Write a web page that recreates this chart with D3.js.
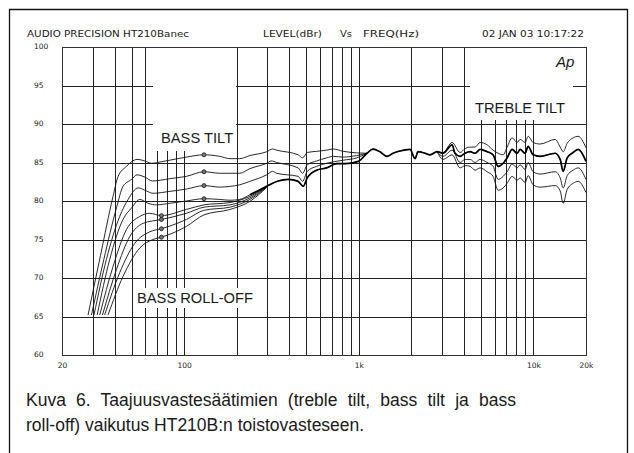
<!DOCTYPE html>
<html>
<head>
<meta charset="utf-8">
<script src="https://cdn.jsdelivr.net/npm/d3@7"></script>
<style>
  body { margin: 0; background: #fff; }
  svg { display: block; }
  text { fill: #1a1a1a; }
</style>
</head>
<body>
<div class="chart"></div>
<script>
//----------------------------------------------------------------------------------------------------------------------
// HT210B frequency response (Audio Precision plot)
//----------------------------------------------------------------------------------------------------------------------

var width = 634,
    height = 453;

// frequency ticks (grid) and labelled ones
var freqTicks = [20, 30, 40, 50, 60, 70, 80, 90, 100, 200, 300, 400, 500, 600, 700, 800, 900,
                 1000, 2000, 3000, 4000, 5000, 6000, 7000, 8000, 9000, 10000, 20000];
var freqLabels = {20: "20", 100: "100", 1000: "1k", 10000: "10k", 20000: "20k"};
var levelTicks = [60, 65, 70, 75, 80, 85, 90, 95, 100];

// curves as [Hz, dBr]; neutral setting over the whole band
var neutral = [[31.8,65.2],[37.5,72.4],[44.7,77.6],[50,79.1],[55.8,80.2],[62.2,79.7],[69.5,79.5],[82.8,79.7],
  [103,80.0],[130,80.3],[160,80.2],[183,80.1],[208,80.2],[238,80.8],[297,81.9],[317,82.25],[346,82.6],
  [395,82.8],[450,82.55],[481,81.9],[507,83.0],[574,84.0],[655,84.3],[748,84.85],[834,84.85],[995,85.15],
  [1115,86.2],[1207,86.75],[1323,86.4],[1451,85.8],[1571,86.2],[1723,86.5],[1966,86.7],[2100,85.5],
  [2184,86.4],[2396,86.2],[2560,86.0],[2808,86.4],[3040,86.2],[3422,87.3],[3560,86.2],[3804,85.8],
  [4062,86.2],[4340,86.4],[4634,86.2],[4952,86.7],[5432,86.4],[5878,86.0],[6280,84.5],[6708,84.9],
  [7070,85.6],[7554,86.7],[8068,86.2],[8394,86.7],[8966,86.2],[9328,87.1],[9964,86.0],[10930,85.8],
  [13320,86.2],[14230,85.4],[14800,83.85],[15610,85.6],[16890,86.3],[18040,86.7],[20000,85.15]];

// bass tilt settings (merge into neutral around 1.1k)
var bassTilt3 = [[28.2,65.2],[33.2,72.9],[39.2,80.6],[41.9,83.2],[46.8,84.5],[50,85.1],[53.8,85.4],[59.6,85.2],
  [65,84.9],[74.2,85.1],[82.8,85.3],[103,85.7],[130,86.0],[160,85.8],[183,85.5],[208,85.5],[238,85.9],
  [297,86.4],[321,86.75],[339,86.6],[450,86.0],[477,85.6],[507,86.3],[574,86.45],[655,86.6],[715,86.75],
  [815,86.45],[973,86.25],[1115,86.2]];
var bassTilt2 = [[29.5,65.2],[34.7,72.4],[41.0,79.1],[44.7,81.9],[50,82.8],[53.8,83.4],[59.6,83.1],[65.9,82.6],
  [82.8,82.9],[103,83.2],[130,83.8],[160,83.6],[183,83.6],[208,83.6],[238,84.2],[297,84.9],[316,85.2],
  [339,85.0],[450,84.3],[477,83.6],[507,84.7],[574,85.2],[655,85.6],[715,85.8],[815,85.7],[973,85.9],
  [1115,86.2]];
var bassTilt1 = [[30.5,65.2],[35.9,72.4],[42.8,78.0],[47.8,80.2],[54.6,81.7],[60.9,81.3],[66.3,81.0],[82.8,81.25],
  [103,81.55],[130,82.0],[160,81.8],[183,81.9],[208,82.1],[238,82.55],[297,83.4],[321,83.85],[339,83.6],
  [450,83.2],[477,82.55],[507,83.85],[574,84.5],[655,84.9],[815,85.3],[973,85.6],[1115,86.2]];

// bass roll-off settings (merge into neutral around 300 Hz)
var rollOff1 = [[32.9,65.2],[39.2,71.5],[46.8,76.3],[55.8,78.0],[63.6,78.4],[74.2,78.1],[103,78.9],[130,79.5],
  [183,79.8],[238,80.6],[297,81.9]];
var rollOff2 = [[34.1,65.2],[41.0,71.1],[48.9,75.4],[58.3,77.1],[74.2,77.6],[103,78.4],[130,79.2],[183,79.5],
  [238,80.4],[297,81.85]];
var rollOff3 = [[35.1,65.2],[42.8,70.7],[52.2,74.5],[63.6,76.0],[74.2,76.4],[103,77.6],[130,78.8],[183,79.2],
  [238,80.2],[297,81.8]];
var rollOff4 = [[36.7,65.2],[44.7,70.2],[55.8,73.9],[66.3,75.0],[74.2,75.3],[103,76.7],[130,78.2],[183,78.9],
  [238,79.95],[297,81.75]];

// treble tilt settings (leave neutral around 3k)
var trebleUp = [[2808,86.4],[3040,86.3],[3422,87.6],[3804,86.3],[4062,86.8],[4340,87.0],[4634,87.0],[4952,87.6],
  [5432,87.3],[5878,86.6],[6280,86.2],[6708,86.0],[7070,87.0],[7554,88.2],[8068,87.6],[8394,88.0],
  [8966,87.6],[9328,88.4],[9964,87.6],[10930,87.4],[13320,88.0],[14230,87.0],[14800,86.4],[15610,87.5],
  [16890,88.2],[18040,88.4],[20000,86.9]];
var trebleDown1 = [[2808,86.4],[3040,85.8],[3422,86.6],[3804,85.0],[4062,85.4],[4340,85.4],[4634,85.0],[4952,85.4],
  [5432,85.0],[5878,84.5],[6280,82.8],[6708,83.2],[7070,83.8],[7554,84.8],[8068,84.3],[8394,84.7],
  [8966,84.1],[9328,85.0],[9964,83.8],[10930,83.5],[13320,83.8],[14230,83.0],[14800,81.7],[15610,83.3],
  [16890,84.0],[18040,84.3],[20000,82.8]];
var trebleDown2 = [[2808,86.4],[3040,85.4],[3422,86.0],[3804,84.3],[4062,84.6],[4340,84.5],[4634,84.0],[4952,84.3],
  [5432,83.8],[5878,83.2],[6280,81.4],[6708,81.7],[7070,82.3],[7554,83.2],[8068,82.7],[8394,83.0],
  [8966,82.4],[9328,83.3],[9964,82.1],[10930,81.8],[13320,82.0],[14230,81.3],[14800,79.7],[15610,81.5],
  [16890,82.3],[18040,82.55],[20000,81.1]];

// knob position markers
var tiltMarks = [[130,86.0],[130,83.8],[130,82.0],[130,80.3]];
var rollMarks = [[74.2,78.1],[74.2,77.6],[74.2,76.4],[74.2,75.3]];

var thinCurves = [neutral, bassTilt3, bassTilt2, bassTilt1, rollOff1, rollOff2, rollOff3, rollOff4,
                  trebleUp, trebleDown1, trebleDown2];

var plot = {left: 62, right: 586, top: 47, bottom: 355};
var smallFont = "'DejaVu Sans', Verdana, sans-serif";
var bodyFont = "'Liberation Sans', Arial, sans-serif";

var svg = d3.select(".chart").append("svg")
  .attr("width", width)
  .attr("height", height);

// outer frame (open at the bottom of the page)
svg.append("path")
  .attr("d", "M9.5,460 V9.5 H627.5 V460")
  .attr("fill", "none")
  .attr("stroke", "#111")
  .attr("stroke-width", 1.3);

var x = d3.scaleLog()
  .domain([20, 20000])
  .range([plot.left, plot.right]);

var y = d3.scaleLinear()
  .domain([60, 100])
  .range([plot.bottom, plot.top]);

// header line, each piece stretched to its span
var headerItems = [
  {text: "AUDIO PRECISION HT210Banec", x0: 27, x1: 189},
  {text: "LEVEL(dBr)", x0: 263, x1: 322},
  {text: "Vs", x0: 340, x1: 352},
  {text: "FREQ(Hz)", x0: 363, x1: 419},
  {text: "02 JAN 03 10:17:22", x0: 482, x1: 584}
];
svg.append("g")
  .style("font-family", smallFont)
  .style("font-size", "8px")
  .selectAll("text")
  .data(headerItems)
  .enter()
  .append("text")
  .attr("x", function(d) { return d.x0; })
  .attr("y", 37)
  .attr("textLength", function(d) { return d.x1 - d.x0; })
  .attr("lengthAdjust", "spacingAndGlyphs")
  .text(function(d) { return d.text; });

// grid via axes
var xAxis = d3.axisBottom(x)
  .tickValues(freqTicks)
  .tickSizeInner(-(plot.bottom - plot.top))
  .tickSizeOuter(0)
  .tickPadding(6)
  .tickFormat(function(d) { return freqLabels[d] || ""; });

var yAxis = d3.axisLeft(y)
  .tickValues(levelTicks)
  .tickSizeInner(-(plot.right - plot.left))
  .tickSizeOuter(0)
  .tickFormat(d3.format("d"));

var gx = svg.append("g")
  .attr("transform", "translate(0," + plot.bottom + ")")
  .call(xAxis);

var gy = svg.append("g")
  .attr("transform", "translate(" + plot.left + ",0)")
  .call(yAxis);

[gx, gy].forEach(function(g) {
  g.select(".domain").remove();
  g.selectAll("line")
    .attr("stroke", "#222")
    .attr("shape-rendering", "crispEdges");
  g.selectAll("text")
    .style("font-family", smallFont)
    .style("font-size", "7.5px")
    .attr("fill", "#1a1a1a");
});

gy.selectAll("text")
  .attr("text-anchor", "start")
  .attr("x", 34 - plot.left)
  .attr("dy", "0.2em");

gx.selectAll("text")
  .attr("dy", "0.9em");

// frame of the plot area
svg.append("rect")
  .attr("x", plot.left)
  .attr("y", plot.top)
  .attr("width", plot.right - plot.left)
  .attr("height", plot.bottom - plot.top)
  .attr("fill", "none")
  .attr("stroke", "#333")
  .attr("shape-rendering", "crispEdges");

// label backgrounds hide the grid
var masks = [
  {x0: 153, x1: 236, y0: 48, y1: 151},
  {x0: 133, x1: 262, y0: 288, y1: 308},
  {x0: 470, x1: 573, y0: 48, y1: 120}
];
svg.selectAll("rect.mask")
  .data(masks)
  .enter()
  .append("rect")
  .attr("class", "mask")
  .attr("x", function(d) { return d.x0; })
  .attr("y", function(d) { return d.y0; })
  .attr("width", function(d) { return d.x1 - d.x0; })
  .attr("height", function(d) { return d.y1 - d.y0; })
  .attr("fill", "#fff");

var line = d3.line()
  .x(function(d) { return x(d[0]); })
  .y(function(d) { return y(d[1]); })
  .curve(d3.curveMonotoneX);

svg.selectAll("path.thin")
  .data(thinCurves)
  .enter()
  .append("path")
  .attr("class", "thin")
  .attr("d", line)
  .attr("fill", "none")
  .attr("stroke", "#111")
  .attr("stroke-width", 0.9);

// where all settings coincide the trace reads heavier
svg.append("path")
  .datum(neutral.filter(function(d) { return d[0] >= 238; }))
  .attr("d", line)
  .attr("fill", "none")
  .attr("stroke", "#000")
  .attr("stroke-width", 1.7);

svg.selectAll("circle.mark")
  .data(tiltMarks.concat(rollMarks))
  .enter()
  .append("circle")
  .attr("class", "mark")
  .attr("cx", function(d) { return x(d[0]); })
  .attr("cy", function(d) { return y(d[1]); })
  .attr("r", 2)
  .attr("fill", "#777")
  .attr("stroke", "#111")
  .attr("stroke-width", 0.8);

// annotations
var notes = svg.append("g")
  .style("font-family", bodyFont)
  .style("font-size", "14.7px");
notes.append("text").attr("x", 161).attr("y", 143).text("BASS TILT");
notes.append("text").attr("x", 137).attr("y", 303).text("BASS ROLL-OFF");
notes.append("text").attr("x", 475).attr("y", 113).text("TREBLE TILT");

svg.append("text")
  .attr("x", 556)
  .attr("y", 67)
  .style("font-family", bodyFont)
  .style("font-style", "italic")
  .style("font-size", "15px")
  .text("Ap");

// caption; first line is justified out to the right margin
var caption = svg.append("g")
  .style("font-family", bodyFont)
  .style("font-size", "17.5px");
var cap1 = caption.append("text").attr("x", 26).attr("y", 406)
  .text("Kuva 6. Taajuusvastesäätimien (treble tilt, bass tilt ja bass");
caption.append("text").attr("x", 26).attr("y", 431)
  .text("roll-off) vaikutus HT210B:n toistovasteseen.");

var natural = cap1.node().getComputedTextLength();
var gaps = cap1.text().split(" ").length - 1;
cap1.style("word-spacing", Math.max(0, (516 - 26 - natural) / gaps) + "px");
</script>
</body>
</html>
